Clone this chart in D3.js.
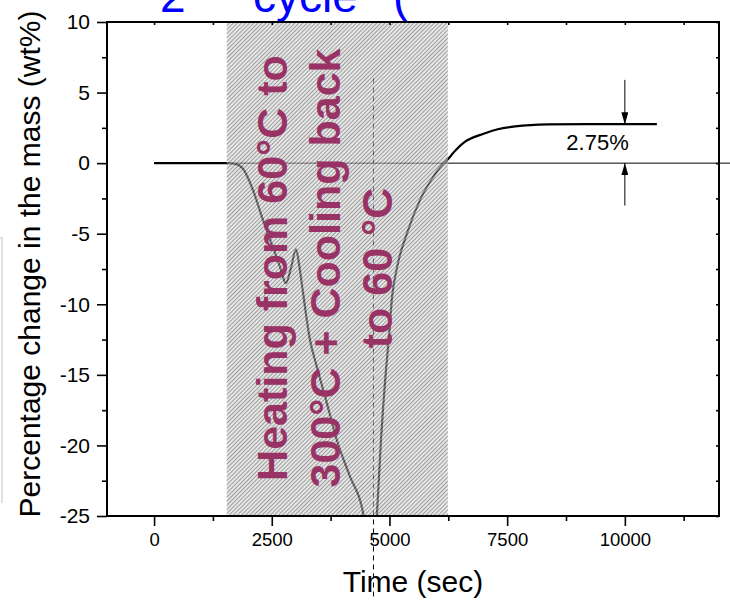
<!DOCTYPE html>
<html>
<head>
<meta charset="utf-8">
<script src="https://cdn.jsdelivr.net/npm/d3@7"></script>
<style>
body { margin: 0; background: #fff; }
svg { display: block; font-family: "Liberation Sans", Arial, sans-serif; }
</style>
</head>
<body>
<svg id="chart" width="730" height="602"></svg>
<script>
// TGA mass change, 2nd cycle

var time = [0, 500, 1000, 1545, 1720, 1890, 2100, 2310, 2530, 2680, 2800, 2910, 3015, 3090, 3165, 3310, 3455, 3670, 3880, 4160, 4440, 4590,
            4735, 4820, 4925, 4990, 5055, 5160, 5370, 5650, 5925, 6140, 6220, 6400, 6600, 6970, 7300, 7670, 8370, 9430, 10680];
var massChange = [0, 0, 0, 0, -0.05, -0.4, -1.9, -4.0, -6.0, -7.4, -8.5, -7.4, -6.1, -7.4, -9.2, -12.5, -14.4, -17.0, -19.6, -22.2, -24.8, -30,
                  -24.8, -19.6, -14.7, -12.3, -9.5, -7.4, -5.0, -2.6, -1.0, -0.05, 0.2, 0.9, 1.5, 2.05, 2.4, 2.6, 2.74, 2.77, 2.77];

var xTicks = [0, 2500, 5000, 7500, 10000];
var xMinor = [1250, 3750, 6250, 8750, 11250];
var yTicks = [-25, -20, -15, -10, -5, 0, 5, 10];
var yMinor = [-22.5, -17.5, -12.5, -7.5, -2.5, 2.5, 7.5];

var heatWindow = [1545, 6240];
var peakTime = 4660;
var residual = 2.75;
var heatText = ["Heating from 60°C to", "300°C + Cooling back", "to 60 °C"];

var svg = d3.select("#chart"),
    margin = {left: 107, right: 719, top: 22, bottom: 516};

var x = d3.scaleLinear().domain([-1000, 12000]).range([margin.left, margin.right]);
var y = d3.scaleLinear().domain([-25, 10]).range([margin.bottom, margin.top]);

var plotW = margin.right - margin.left,
    plotH = margin.bottom - margin.top;

var defs = svg.append("defs");

defs.append("clipPath").attr("id", "plotclip")
  .append("rect")
    .attr("x", margin.left).attr("y", margin.top)
    .attr("width", plotW).attr("height", plotH);

var pat = defs.append("pattern")
    .attr("id", "hatch")
    .attr("patternUnits", "userSpaceOnUse")
    .attr("width", 2.9).attr("height", 2.9)
    .attr("patternTransform", "rotate(45)");
pat.append("rect").attr("width", 2.9).attr("height", 2.9).attr("fill", "#e6e6e6");
pat.append("line")
    .attr("x1", 1.45).attr("y1", 0).attr("x2", 1.45).attr("y2", 2.9)
    .attr("stroke", "#5a5a5a").attr("stroke-width", 1.2);

defs.append("marker")
    .attr("id", "arrow")
    .attr("viewBox", "0 0 10 10")
    .attr("refX", 10).attr("refY", 5)
    .attr("markerUnits", "userSpaceOnUse")
    .attr("markerWidth", 12).attr("markerHeight", 7)
    .attr("preserveAspectRatio", "none")
    .attr("orient", "auto")
  .append("path")
    .attr("d", "M0,0L10,5L0,10Z")
    .attr("fill", "#000");

// light edge of a cropped box on the left
svg.append("path")
    .attr("d", "M0,238H2V503")
    .attr("fill", "none")
    .attr("stroke", "#d8d8d8")
    .attr("stroke-width", 1.5);

// cropped title
var title = svg.append("text")
    .attr("y", 12)
    .attr("fill", "#0000ff")
    .attr("font-size", 46);
title.append("tspan").attr("x", 160).text("2");
title.append("tspan").attr("x", 187).attr("dy", -20).attr("font-size", 28).text("nd");
title.append("tspan").attr("x", 253).attr("dy", 20).text("cycle");
title.append("tspan").attr("x", 393).text("(");

// zero reference line
svg.append("line")
    .attr("x1", x(heatWindow[0])).attr("x2", 730)
    .attr("y1", y(0)).attr("y2", y(0))
    .attr("stroke", "#000").attr("stroke-width", 1);

// dashed marker at peak time
svg.append("line")
    .attr("x1", x(peakTime)).attr("x2", x(peakTime))
    .attr("y1", y(6)).attr("y2", y(-30.8))
    .attr("stroke", "#000")
    .attr("stroke-width", 1)
    .attr("stroke-dasharray", "5,4");

var line = d3.line()
    .x(function(d, i) { return x(time[i]); })
    .y(function(d) { return y(d); })
    .curve(d3.curveMonotoneX);

svg.append("path")
    .datum(massChange)
    .attr("clip-path", "url(#plotclip)")
    .attr("fill", "none")
    .attr("stroke", "#000")
    .attr("stroke-width", 2.2)
    .attr("d", line);

// heating window, drawn over the curve
svg.append("rect")
    .attr("x", x(heatWindow[0]))
    .attr("y", margin.top)
    .attr("width", x(heatWindow[1]) - x(heatWindow[0]))
    .attr("height", plotH)
    .attr("fill", "url(#hatch)")
    .attr("opacity", 0.6);

// axes
var plain = function(d) { return String(d); };

var xAxis = svg.append("g").attr("class", "axis")
    .attr("transform", "translate(0," + margin.bottom + ")")
    .call(d3.axisBottom(x).tickValues(xTicks).tickSize(10).tickSizeOuter(0).tickPadding(7).tickFormat(plain));
xAxis.selectAll("text").attr("font-size", 18.5);
svg.append("g").attr("class", "axis")
    .attr("transform", "translate(0," + margin.bottom + ")")
    .call(d3.axisBottom(x).tickValues(xMinor).tickSize(5).tickSizeOuter(0).tickFormat(""));

var yAxis = svg.append("g").attr("class", "axis")
    .attr("transform", "translate(" + margin.left + ",0)")
    .call(d3.axisLeft(y).tickValues(yTicks).tickSize(10).tickSizeOuter(0).tickPadding(7).tickFormat(plain));
yAxis.selectAll("text").attr("font-size", 21);
svg.append("g").attr("class", "axis")
    .attr("transform", "translate(" + margin.left + ",0)")
    .call(d3.axisLeft(y).tickValues(yMinor).tickSize(5).tickSizeOuter(0).tickFormat(""));

svg.append("g").attr("class", "axis")
    .attr("transform", "translate(0," + margin.top + ")")
    .call(d3.axisTop(x).tickValues(xTicks.concat(xMinor)).tickSize(-3).tickSizeOuter(0).tickFormat(""));
svg.append("g").attr("class", "axis")
    .attr("transform", "translate(" + margin.right + ",0)")
    .call(d3.axisRight(y).tickValues(yTicks.concat(yMinor)).tickSize(-3).tickSizeOuter(0).tickFormat(""));

svg.selectAll(".axis .domain").remove();
svg.selectAll(".axis line").attr("stroke-width", 1.6);
svg.selectAll(".axis text").attr("fill", "#000").attr("font-family", "Liberation Sans, Arial, sans-serif");

svg.append("rect")
    .attr("x", margin.left).attr("y", margin.top)
    .attr("width", plotW).attr("height", plotH)
    .attr("fill", "none")
    .attr("stroke", "#000")
    .attr("stroke-width", 2);

// residual mass annotation
svg.append("line")
    .attr("x1", x(10000)).attr("x2", x(10000))
    .attr("y1", y(5.9)).attr("y2", y(residual))
    .attr("stroke", "#000").attr("stroke-width", 1)
    .attr("marker-end", "url(#arrow)");
svg.append("line")
    .attr("x1", x(10000)).attr("x2", x(10000))
    .attr("y1", y(-3)).attr("y2", y(0))
    .attr("stroke", "#000").attr("stroke-width", 1)
    .attr("marker-end", "url(#arrow)");
svg.append("text")
    .attr("x", x(9420))
    .attr("y", y(0.93))
    .attr("text-anchor", "middle")
    .attr("font-size", 22)
    .text(residual + "%");

// heating window label
var cx = (x(heatWindow[0]) + x(heatWindow[1])) / 2;
svg.append("g").selectAll("text")
    .data(heatText)
    .enter().append("text")
      .attr("transform", function(d, i) { return "translate(" + (cx - 50 + i * 52.5) + ",268) rotate(-90)"; })
      .attr("text-anchor", "middle")
      .attr("font-size", 43)
      .attr("font-weight", "bold")
      .attr("fill", "#993366")
      .text(function(d) { return d; });

// axis titles
svg.append("text")
    .attr("x", 413).attr("y", 592)
    .attr("text-anchor", "middle")
    .attr("font-size", 30)
    .text("Time (sec)");

svg.append("text")
    .attr("transform", "translate(40,264) rotate(-90)")
    .attr("text-anchor", "middle")
    .attr("font-size", 30)
    .text("Percentage change in the mass (wt%)");
</script>
</body>
</html>
